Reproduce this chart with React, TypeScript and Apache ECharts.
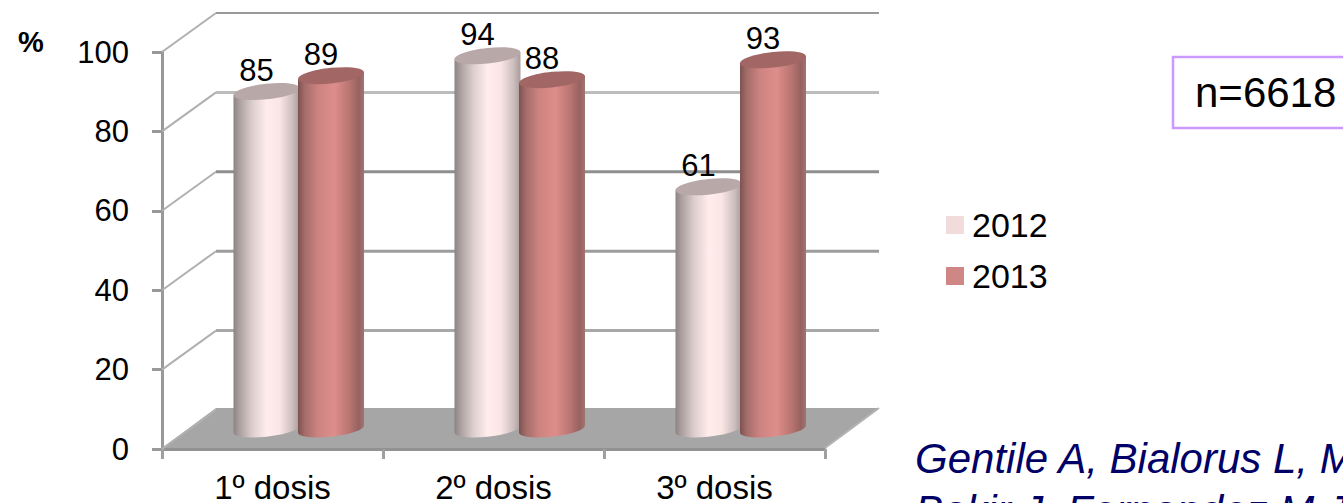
import React, { useEffect, useRef } from "react";
import * as echarts from "echarts";

const categories = ["1º dosis", "2º dosis", "3º dosis"];
const values2012 = [85, 94, 61];
const values2013 = [89, 88, 93];
const yTicks = [0, 20, 40, 60, 80, 100];
const citationLines = ["Gentile A, Bialorus L, Marcó", "Bakir J, Fernandez M J"];
const sampleSize = "n=6618";

const FONT = "'Liberation Sans', Arial, sans-serif";
const DEPTH_X = 54;
const DEPTH_Y = 40;
const RADIUS = 33;
const CAP_SLANT = 3.4;
const CAP_HALF_HEIGHT = 7.8;
const KAPPA = 0.5523;

const WIDTH = 1343;
const HEIGHT = 503;

type Palette = { stops: [number, string][]; cap: string };

const palette2012: Palette = {
  stops: [
    [0, "#8c8383"],
    [0.08, "#a89c9c"],
    [0.28, "#dccdcd"],
    [0.5, "#ffeceb"],
    [0.7, "#f9e6e5"],
    [0.9, "#ccbcbc"],
    [1, "#a89c9c"],
  ],
  cap: "#b9a8a8",
};

const palette2013: Palette = {
  stops: [
    [0, "#7d5250"],
    [0.1, "#a26c69"],
    [0.3, "#cd8380"],
    [0.55, "#dd8e8b"],
    [0.78, "#b97571"],
    [0.92, "#966260"],
    [1, "#a27471"],
  ],
  cap: "#a26665",
};

// Back-wall gridline look by tick value.
const wallLineStyles: Record<number, { stroke: string; lineWidth: number }> = {
  20: { stroke: "#a8a8a8", lineWidth: 3 },
  40: { stroke: "#9c9c9c", lineWidth: 3 },
  60: { stroke: "#8e8e8e", lineWidth: 3 },
  80: { stroke: "#bcbcbc", lineWidth: 3 },
  100: { stroke: "#999999", lineWidth: 2 },
};

// Sheared ellipse helpers: the rim stays vertical at its left and right extremes.
const bottomRim = (cx: number, cy: number) => {
  const [r, s, h, k] = [RADIUS, CAP_SLANT, CAP_HALF_HEIGHT, KAPPA];
  return (
    `C ${cx - r} ${cy + s + k * h} ${cx - k * r} ${cy + h + k * s} ${cx} ${cy + h} ` +
    `C ${cx + k * r} ${cy + h - k * s} ${cx + r} ${cy - s + k * h} ${cx + r} ${cy - s}`
  );
};

const topRim = (cx: number, cy: number) => {
  const [r, s, h, k] = [RADIUS, CAP_SLANT, CAP_HALF_HEIGHT, KAPPA];
  return (
    `C ${cx + r} ${cy - s - k * h} ${cx + k * r} ${cy - h - k * s} ${cx} ${cy - h} ` +
    `C ${cx - k * r} ${cy - h + k * s} ${cx - r} ${cy + s - k * h} ${cx - r} ${cy + s}`
  );
};

// A cylinder standing on the floor, plus its value label above the cap.
function cylinder(shift: number, pal: Palette) {
  return (params: any, api: any) => {
    const cat = api.value(0);
    const val = api.value(1);
    const [bx, by] = api.coord([cat, 0]);
    const [, ty] = api.coord([cat, val]);
    const cx = bx + DEPTH_X / 2 + shift;
    const baseY = by - DEPTH_Y / 2;
    const topY = ty - DEPTH_Y / 2;
    const body =
      `M ${cx - RADIUS} ${topY + CAP_SLANT} L ${cx - RADIUS} ${baseY + CAP_SLANT} ` +
      `${bottomRim(cx, baseY)} L ${cx + RADIUS} ${topY - CAP_SLANT} Z`;
    const cap =
      `M ${cx - RADIUS} ${topY + CAP_SLANT} ${bottomRim(cx, topY)} ${topRim(cx, topY)} Z`;
    return {
      type: "group",
      children: [
        {
          type: "path",
          shape: { pathData: body },
          style: {
            fill: new echarts.graphic.LinearGradient(
              0, 0, 1, 0,
              pal.stops.map(([offset, color]) => ({ offset, color }))
            ),
          },
        },
        { type: "path", shape: { pathData: cap }, style: { fill: pal.cap } },
        {
          type: "text",
          style: {
            text: String(val),
            x: cx - 10,
            y: topY - 21,
            align: "center",
            verticalAlign: "middle",
            fill: "#000",
            font: `31px ${FONT}`,
          },
        },
      ],
    };
  };
}

// Floor, back-wall gridlines and the diagonal edges of the 3D box.
function chartBox(params: any, api: any) {
  const sys = params.coordSys;
  const left = sys.x;
  const right = sys.x + sys.width;
  const floorY = api.coord([0, 0])[1] - 1;
  const children: any[] = [
    {
      type: "polygon",
      shape: {
        points: [
          [left, floorY],
          [right, floorY],
          [right + DEPTH_X, floorY - DEPTH_Y],
          [left + DEPTH_X, floorY - DEPTH_Y],
        ],
      },
      style: { fill: "#a6a6a6" },
    },
    {
      type: "line",
      shape: { x1: right, y1: floorY, x2: right + DEPTH_X, y2: floorY - DEPTH_Y },
      style: { stroke: "#b4b4b4", lineWidth: 2 },
    },
  ];
  yTicks.forEach((tick) => {
    const y = api.coord([0, tick])[1];
    children.push({
      type: "line",
      shape: { x1: left, y1: y, x2: left + DEPTH_X, y2: y - DEPTH_Y + 1 },
      style: { stroke: "#b0b0b0", lineWidth: 2 },
    });
    if (tick > 0) {
      children.push({
        type: "line",
        shape: { x1: left + DEPTH_X, y1: y - DEPTH_Y + 1, x2: right + DEPTH_X, y2: y - DEPTH_Y + 1 },
        style: wallLineStyles[tick],
      });
    }
  });
  return { type: "group", children };
}

const toPoints = (values: number[]) => values.map((v, i) => [i, v]);

export default function App() {
  const ref = useRef<HTMLDivElement>(null);

  useEffect(() => {
    document.body.style.margin = "0";
    document.body.style.overflow = "hidden";
    const chart = echarts.init(ref.current!, null, { renderer: "svg" });
    chart.setOption({
      animation: false,
      backgroundColor: "#fff",
      textStyle: { fontFamily: FONT },
      grid: { left: 162, top: 52, width: 663, height: 397, outerBoundsMode: "none" },
      xAxis: {
        type: "category",
        data: categories,
        axisLine: { show: true, lineStyle: { color: "#929292", width: 3 } },
        axisTick: { show: true, alignWithLabel: false, length: 10, lineStyle: { color: "#a0a0a0", width: 3 } },
        axisLabel: { color: "#000", fontSize: 33, margin: 22, fontFamily: FONT },
        splitLine: { show: false },
      },
      yAxis: {
        type: "value",
        min: 0,
        max: 100,
        interval: 20,
        axisLine: { show: true, lineStyle: { color: "#999", width: 3 } },
        axisTick: { show: true, length: 10, lineStyle: { color: "#999", width: 3 } },
        axisLabel: { color: "#000", fontSize: 31, margin: 33, padding: [5, 0, 0, 0], fontFamily: FONT },
        splitLine: { show: false },
      },
      legend: {
        orient: "vertical",
        left: 941,
        top: 203,
        itemWidth: 18,
        itemHeight: 18,
        itemGap: 17,
        icon: "rect",
        selectedMode: false,
        textStyle: { color: "#000", fontSize: 34, fontFamily: FONT, padding: [0, 0, 0, 3] },
        data: [
          { name: "2012", itemStyle: { color: "#f2dcdb" } },
          { name: "2013", itemStyle: { color: "#cf8785" } },
        ],
      },
      graphic: [
        {
          type: "text",
          left: 18,
          top: 27,
          style: { text: "%", fill: "#000", font: `bold 29px ${FONT}` },
        },
        {
          type: "rect",
          shape: { x: 1173, y: 57, width: 220, height: 71 },
          style: { fill: "#fff", stroke: "#cc99ff", lineWidth: 2.5 },
        },
        {
          type: "text",
          x: 1195,
          y: 92,
          style: { text: sampleSize, fill: "#000", font: `42px ${FONT}`, verticalAlign: "middle" },
        },
        {
          type: "text",
          x: 915,
          y: 458,
          style: {
            text: citationLines[0],
            fill: "#000066",
            font: `italic 42px ${FONT}`,
            verticalAlign: "middle",
          },
        },
        {
          type: "text",
          x: 915,
          y: 510,
          style: {
            text: citationLines[1],
            fill: "#000066",
            font: `italic 42px ${FONT}`,
            verticalAlign: "middle",
          },
        },
      ],
      series: [
        { type: "custom", name: "box", silent: true, z: 1, data: [[0, 0]], renderItem: chartBox },
        {
          type: "custom",
          name: "2012",
          z: 3,
          itemStyle: { color: "#f2dcdb" },
          data: toPoints(values2012),
          renderItem: cylinder(-33, palette2012),
        },
        {
          type: "custom",
          name: "2013",
          z: 4,
          itemStyle: { color: "#cf8785" },
          data: toPoints(values2013),
          renderItem: cylinder(31.5, palette2013),
        },
      ],
    });
    return () => chart.dispose();
  }, []);

  return <div ref={ref} style={{ width: WIDTH, height: HEIGHT }} />;
}
